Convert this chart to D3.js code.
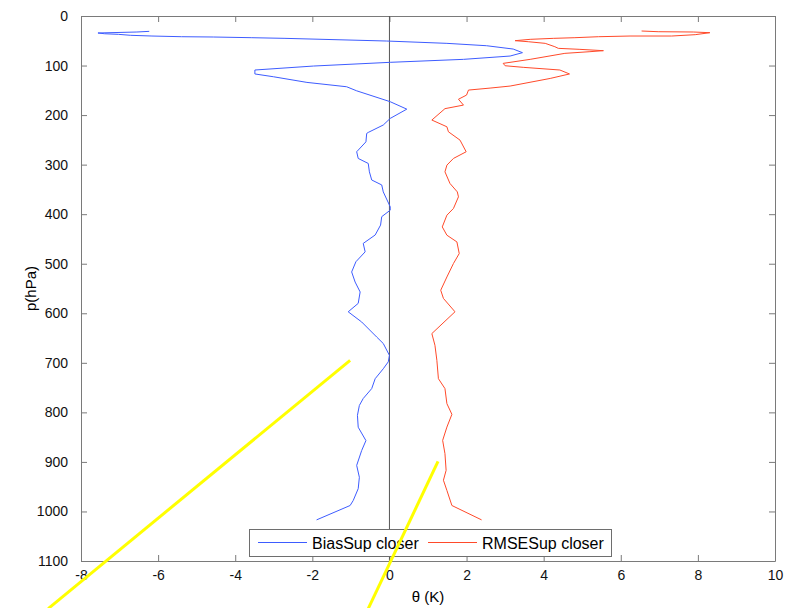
<!DOCTYPE html>
<meta charset="utf-8">
<style>
body { margin: 0; background: #fff; }
text { font-family: Arial, "Liberation Sans", sans-serif; }
.axis path, .axis line { stroke: #7a7a7a; }
.axis text { fill: #111; font-size: 14px; }
</style>
<html>
<body>
<div id="my_dataviz"></div>
<script src="https://d3js.org/d3.v7.min.js"></script>
<script>

// ---- data ----
var biasP = [31, 32.3, 34.3, 35.8, 37, 39, 40.4, 41.8, 42.4, 43.8, 45.1, 50.5, 55.2, 60, 66.7, 74, 80.8, 87.5, 93.5, 101,
  109, 117, 122.6, 134, 142.8, 151, 173, 188, 206.7, 220, 235, 237, 254, 274, 287.5, 297.6, 314.5, 331, 341, 355,
  385, 392, 405, 422, 442, 459, 476, 496, 516.6, 537, 557, 580, 597, 617.6, 648, 661, 685, 698, 712, 732,
  752, 772, 786, 806, 830, 857, 877, 907, 931, 954, 978, 988, 1017];
var biasVal = [-6.23, -6.55, -7.56, -7.39, -7.03, -6.71, -6.16, -5.39, -4.57, -3.57, -2.71, -0.07, 1.49, 2.52, 3.21, 3.45, 3.13, 1.92, 0.02, -1.97,
  -3.49, -3.49, -3.01, -2.14, -1.11, -0.85, 0.02, 0.45, 0.02, -0.16, -0.55, -0.59, -0.61, -0.85, -0.81, -0.55, -0.52, -0.46, -0.2, -0.16,
  0.02, 0.02, -0.2, -0.23, -0.37, -0.68, -0.63, -0.87, -0.98, -0.89, -0.76, -0.81, -1.07, -0.72, -0.33, -0.16, 0.0, -0.03, -0.16, -0.37,
  -0.46, -0.68, -0.78, -0.83, -0.81, -0.61, -0.72, -0.85, -0.78, -0.81, -0.94, -1.02, -1.89];

var rmseP = [30.3, 31.7, 32.3, 33.7, 37.7, 40.4, 40.4, 41.8, 43.8, 45.1, 47.1, 49.8, 51.9, 55.2, 62, 65.3, 67.3, 70, 72, 75.4,
  87.5, 95.6, 100.4, 103.6, 109, 117, 126, 141.4, 145.5, 149.5, 159.6, 168, 179.8, 187, 210, 223.6, 233.7, 250.5, 274, 287.5,
  301, 314.5, 338, 355, 365, 388.5, 402, 425.7, 442.4, 456, 479.4, 499.6, 526.7, 553.5, 570, 597, 641, 664.6, 695, 732,
  752, 782.4, 804, 829.7, 856.6, 883.4, 917, 937, 957.6, 988, 1017];
var rmseVal = [6.54, 6.97, 7.88, 8.31, 7.93, 7.32, 6.24, 5.42, 4.81, 4.25, 3.65, 3.26, 3.6, 4.04, 4.29, 4.38, 4.94, 5.55, 5.2, 4.55,
  3.65, 2.95, 3.0, 3.47, 4.42, 4.67, 4.17, 3.13, 2.61, 2.05, 2.0, 1.79, 1.92, 1.44, 1.1, 1.49, 1.53, 1.83, 1.99, 1.66,
  1.49, 1.44, 1.57, 1.76, 1.79, 1.66, 1.49, 1.37, 1.49, 1.75, 1.81, 1.66, 1.49, 1.33, 1.4, 1.7, 1.1, 1.18, 1.23, 1.27,
  1.44, 1.49, 1.62, 1.49, 1.38, 1.44, 1.47, 1.4, 1.49, 1.62, 2.39];

var xTicks = [-8, -6, -4, -2, 0, 2, 4, 6, 8, 10];
var yTicks = [0, 100, 200, 300, 400, 500, 600, 700, 800, 900, 1000, 1100];
var seriesNames = ["BiasSup closer", "RMSESup closer"];
// yellow marker strokes drawn over the figure, in data units (theta, p)
var markStart = [[-1.02, 695], [1.26, 899]];
var markEnd = [[-8.85, 1196], [-0.55, 1196]];

var margin = {top: 16, right: 23, bottom: 47, left: 81},
    width = 798 - margin.left - margin.right,
    height = 608 - margin.top - margin.bottom;

var svg = d3.select("#my_dataviz")
  .append("svg")
    .attr("width", 798)
    .attr("height", 608)
  .append("g")
    .attr("transform", "translate(" + margin.left + "," + margin.top + ")");

var x = d3.scaleLinear().domain([-8, 10]).range([0, width]);
var y = d3.scaleLinear().domain([0, 1100]).range([0, height]);

// plain "-8", "1000" labels like MATLAB
var plain = function(d) { return String(d); };

// axes, MATLAB style: ticks pointing inward on all four sides
svg.append("g").attr("class", "axis")
  .attr("transform", "translate(0," + height + ")")
  .call(d3.axisBottom(x).tickValues(xTicks).tickFormat(plain).tickSize(-6).tickPadding(9).tickSizeOuter(0))
svg.append("g").attr("class", "axis")
  .call(d3.axisTop(x).tickValues(xTicks).tickSize(-6).tickFormat("").tickSizeOuter(0))
svg.append("g").attr("class", "axis")
  .call(d3.axisLeft(y).tickValues(yTicks).tickFormat(plain).tickSize(-6).tickPadding(13).tickSizeOuter(0))
svg.append("g").attr("class", "axis")
  .attr("transform", "translate(" + width + ",0)")
  .call(d3.axisRight(y).tickValues(yTicks).tickSize(-6).tickFormat("").tickSizeOuter(0))

svg.selectAll(".axis text").style("font-size", "14px")

// zero line
svg.append("line")
  .attr("x1", x(0)).attr("x2", x(0))
  .attr("y1", y(0)).attr("y2", y(1100))
  .attr("stroke", "#555")
  .attr("stroke-width", 1)

var line = d3.line()
  .x(function(d) { return x(d[0]); })
  .y(function(d) { return y(d[1]); });

var biasData = biasVal.map(function(v, i) { return [v, biasP[i]]; });
var rmseData = rmseVal.map(function(v, i) { return [v, rmseP[i]]; });
var colors = ["#3d5cff", "#ff4a2a"];

svg.append("path").datum(biasData)
  .attr("d", line).attr("fill", "none")
  .attr("stroke", colors[0]).attr("stroke-width", 1)
svg.append("path").datum(rmseData)
  .attr("d", line).attr("fill", "none")
  .attr("stroke", colors[1]).attr("stroke-width", 1)

// labels
svg.append("text")
  .attr("x", width / 2).attr("y", height + 41)
  .style("text-anchor", "middle")
  .style("font-size", "15px")
  .text("θ (K)");

svg.append("text")
  .attr("transform", "translate(" + (-45) + "," + (height / 2) + ") rotate(-90)")
  .style("text-anchor", "middle")
  .style("font-size", "15px")
  .text("p(hPa)");

// legend
var leg = svg.append("g").attr("transform", "translate(" + (249 - margin.left) + "," + (529 - margin.top) + ")");
leg.append("rect")
  .attr("x", 0.5).attr("y", 0.5)
  .attr("width", 362).attr("height", 27)
  .attr("fill", "#fff").attr("stroke", "#6e6e6e")
var legX = [9, 179];
seriesNames.forEach(function(name, i) {
  leg.append("line")
    .attr("x1", legX[i]).attr("x2", legX[i] + 49)
    .attr("y1", 13.5).attr("y2", 13.5)
    .attr("stroke", colors[i]).attr("stroke-width", 1)
  leg.append("text")
    .attr("x", legX[i] + 54).attr("y", 14)
    .attr("dy", "0.35em")
    .style("font-size", "16px")
    .text(name);
});

// yellow marker strokes
svg.selectAll("mark")
  .data(markStart)
  .enter()
  .append("line")
    .attr("x1", function(d) { return x(d[0]); })
    .attr("y1", function(d) { return y(d[1]); })
    .attr("x2", function(d, i) { return x(markEnd[i][0]); })
    .attr("y2", function(d, i) { return y(markEnd[i][1]); })
    .attr("stroke", "#ffff00")
    .attr("stroke-width", 3)

</script>
</body>
</html>
